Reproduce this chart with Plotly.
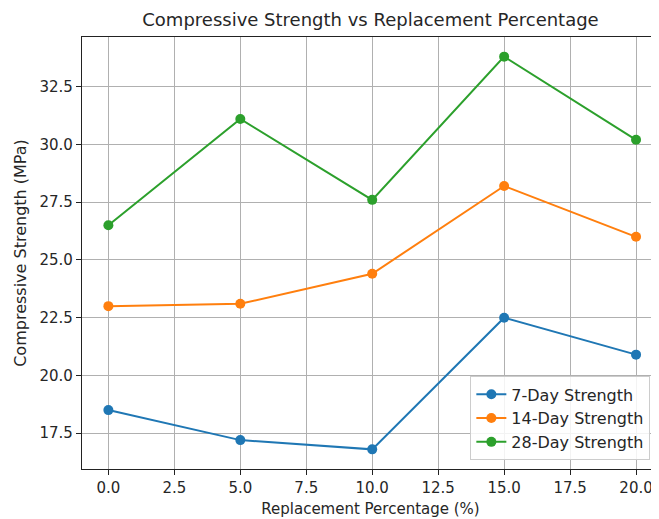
import plotly.graph_objects as go

replacement_pct = [0, 5, 10, 15, 20]
strength_7day = [18.5, 17.2, 16.8, 22.5, 20.9]
strength_14day = [23.0, 23.1, 24.4, 28.2, 26.0]
strength_28day = [26.5, 31.1, 27.6, 33.8, 30.2]

series = [
    ("7-Day Strength", strength_7day, "#1f77b4"),
    ("14-Day Strength", strength_14day, "#ff7f0e"),
    ("28-Day Strength", strength_28day, "#2ca02c"),
]

FONT = "DejaVu Sans"
TXT = "#262626"

fig = go.Figure()
for name, vals, color in series:
    fig.add_trace(go.Scatter(
        x=replacement_pct, y=vals, name=name, mode="lines+markers",
        line=dict(color=color, width=2),
        marker=dict(color=color, size=10),
    ))

axis_common = dict(
    showgrid=True, gridcolor="#b0b0b0", gridwidth=1,
    showline=True, linecolor="#222", linewidth=1.2,
    ticks="outside", ticklen=5, tickcolor="#222", tickwidth=1,
    tickfont=dict(family=FONT, size=15, color=TXT),
    zeroline=False, tickformat=".1f", dtick=2.5, tick0=0,
)

# page body has an 8px margin: compensate in size and margins
fig.update_layout(
    width=651, height=511,
    margin=dict(l=74, r=0, t=29, b=50),
    paper_bgcolor="white", plot_bgcolor="white",
    font=dict(family=FONT, color=TXT),
    title=dict(text="Compressive Strength vs Replacement Percentage",
               x=0.5, xref="paper", xanchor="center",
               y=1 - 12 / 511, yref="container", yanchor="middle",
               font=dict(family=FONT, size=18, color=TXT)),
    xaxis=dict(**axis_common, range=[-1, 20.87], mirror=True,
               title=dict(text="Replacement Percentage (%)", standoff=7,
                          font=dict(family=FONT, size=15, color=TXT))),
    yaxis=dict(**axis_common, range=[15.95, 34.65], mirror=False,
               title=dict(text="Compressive Strength (MPa)", standoff=8,
                          font=dict(family=FONT, size=16, color=TXT))),
    legend=dict(x=0.985, y=0.02, xanchor="right", yanchor="bottom",
                bgcolor="rgba(255,255,255,0.85)", bordercolor="#cccccc", borderwidth=1,
                font=dict(family=FONT, size=16, color=TXT)),
)

fig.write_html("out.html")
